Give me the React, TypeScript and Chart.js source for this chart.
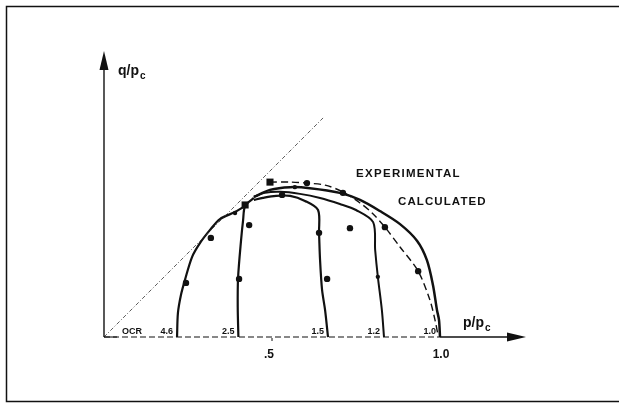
import { useEffect, useRef } from "react";
import { Chart, registerables } from "chart.js";

Chart.register(...registerables);

// Over-consolidation ratios; each undrained path starts on the axis at p/pc = 1/OCR
const ocrValues = [4.6, 2.5, 1.5, 1.2, 1.0];
const ocrLabels = ["4.6", "2.5", "1.5", "1.2", "1.0"];

// Calculated stress paths (p/pc, q/pc) after their start point
const path46: [number, number][] = [
  [0.22, 0.071], [0.229, 0.125], [0.241, 0.17], [0.262, 0.238], [0.286, 0.28],
  [0.315, 0.318], [0.345, 0.351], [0.39, 0.372], [0.42, 0.39],
];
const path25: [number, number][] = [
  [0.398, 0.089], [0.399, 0.176], [0.408, 0.289], [0.414, 0.348], [0.42, 0.39], [0.446, 0.414],
];
const path15: [number, number][] = [
  [0.658, 0.08], [0.649, 0.14], [0.643, 0.229], [0.64, 0.31], [0.637, 0.378],
  [0.598, 0.405], [0.554, 0.42], [0.512, 0.42], [0.473, 0.414], [0.446, 0.408],
];
const path12: [number, number][] = [
  [0.827, 0.08], [0.815, 0.179], [0.807, 0.259], [0.801, 0.342], [0.75, 0.378],
  [0.702, 0.396], [0.643, 0.414], [0.583, 0.426], [0.524, 0.432], [0.479, 0.429], [0.446, 0.417],
];
const path10: [number, number][] = [
  [0.997, 0.051], [0.991, 0.08], [0.979, 0.155], [0.961, 0.229], [0.932, 0.286],
  [0.881, 0.336], [0.821, 0.375], [0.762, 0.408], [0.702, 0.429], [0.613, 0.443],
  [0.554, 0.446], [0.494, 0.438], [0.446, 0.417],
];

// Experimental yield locus (dashed)
const experimentalLocus: [number, number][] = [
  [0.494, 0.461], [0.554, 0.461], [0.604, 0.458], [0.658, 0.452], [0.711, 0.432],
  [0.762, 0.399], [0.798, 0.369], [0.836, 0.327], [0.881, 0.268], [0.935, 0.196],
  [0.97, 0.11], [0.985, 0.051], [0.994, 0.006],
];

// Measured points
const testPoints: [number, number][] = [
  [0.244, 0.161], [0.318, 0.295], [0.432, 0.333], [0.402, 0.173], [0.53, 0.423],
  [0.604, 0.458], [0.64, 0.31], [0.664, 0.173], [0.732, 0.324], [0.711, 0.429],
  [0.836, 0.327], [0.935, 0.196],
];
const minorPoints: [number, number][] = [[0.39, 0.369], [0.815, 0.179], [0.568, 0.446]];
const peakPoints: [number, number][] = [[0.42, 0.393], [0.494, 0.461]];

// q = p reference line
const unityLine: [number, number][] = [[0, 0], [0.652, 0.652]];

const xTickValues = [0.5, 1.0];
const xTickLabels = [".5", "1.0"];

const FONT = '"Liberation Sans", Arial, Helvetica, sans-serif';
const INK = "#111";

const toXY = (pts: [number, number][]) => pts.map(([x, y]) => ({ x, y }));

const fromOcr = (ocr: number, rest: [number, number][]) => [{ x: 1 / ocr, y: 0 }, ...toXY(rest)];

const pathLine = (data: { x: number; y: number }[], width = 2.2) => ({
  data,
  showLine: true,
  borderColor: INK,
  borderWidth: width,
  pointRadius: 0,
  tension: 0.3,
  fill: false,
});

const overlay = {
  id: "figureDecor",
  beforeDraw(chart: Chart) {
    const ctx = chart.ctx;
    ctx.save();
    ctx.fillStyle = "#fff";
    ctx.fillRect(0, 0, chart.width, chart.height);
    // frame
    ctx.strokeStyle = INK;
    ctx.lineWidth = 1.5;
    ctx.beginPath();
    ctx.moveTo(chart.width, 6.5);
    ctx.lineTo(6.5, 6.5);
    ctx.lineTo(6.5, 401.5);
    ctx.lineTo(chart.width, 401.5);
    ctx.stroke();
    ctx.restore();
  },
  afterDatasetsDraw(chart: Chart) {
    const ctx = chart.ctx;
    const xs = chart.scales.x;
    const ys = chart.scales.y;
    const x0 = xs.getPixelForValue(0);
    const y0 = ys.getPixelForValue(0);
    const yTip = ys.getPixelForValue(0.851);
    const xTip = xs.getPixelForValue(1.256);
    const x1 = xs.getPixelForValue(1);
    ctx.save();
    ctx.strokeStyle = INK;
    ctx.fillStyle = INK;

    // vertical axis
    ctx.lineWidth = 1.4;
    ctx.beginPath();
    ctx.moveTo(x0, y0);
    ctx.lineTo(x0, yTip + 10);
    ctx.stroke();
    ctx.beginPath();
    ctx.moveTo(x0, yTip);
    ctx.lineTo(x0 - 4.5, yTip + 19);
    ctx.lineTo(x0 + 4.5, yTip + 19);
    ctx.closePath();
    ctx.fill();

    // horizontal axis: broken up to p/pc = 1, solid beyond
    ctx.lineWidth = 1.1;
    ctx.setLineDash([6, 3]);
    ctx.beginPath();
    ctx.moveTo(x0, y0);
    ctx.lineTo(x1, y0);
    ctx.stroke();
    ctx.setLineDash([]);
    ctx.beginPath();
    ctx.moveTo(x0, y0);
    ctx.lineTo(x0 + 13, y0);
    ctx.stroke();
    ctx.lineWidth = 1.6;
    ctx.beginPath();
    ctx.moveTo(x1, y0);
    ctx.lineTo(xTip - 10, y0);
    ctx.stroke();
    ctx.beginPath();
    ctx.moveTo(xTip, y0);
    ctx.lineTo(xTip - 19, y0 - 4.5);
    ctx.lineTo(xTip - 19, y0 + 4.5);
    ctx.closePath();
    ctx.fill();

    // tick labels
    ctx.font = `bold 12px ${FONT}`;
    ctx.textAlign = "center";
    ctx.textBaseline = "alphabetic";
    xTickValues.forEach((v, i) => {
      const px = xs.getPixelForValue(v);
      ctx.fillText(xTickLabels[i], px + (i === 0 ? -3 : 1), y0 + 21);
    });
    ctx.lineWidth = 1;
    const px5 = xs.getPixelForValue(0.5);
    ctx.beginPath();
    ctx.moveTo(px5, y0 + 1);
    ctx.lineTo(px5, y0 + 4);
    ctx.stroke();

    // OCR labels at the start of each path
    ctx.font = `bold 9px ${FONT}`;
    ctx.textAlign = "right";
    ctx.fillText("OCR", x0 + 38, y0 - 3);
    ocrValues.forEach((ocr, i) => {
      const px = xs.getPixelForValue(1 / ocr);
      ctx.fillText(ocrLabels[i], px - 4, y0 - 3);
    });

    // axis titles
    ctx.textAlign = "left";
    ctx.font = `bold 14px ${FONT}`;
    const wq = ctx.measureText("q/p").width;
    ctx.fillText("q/p", x0 + 14, yTip + 24);
    ctx.font = `bold 10px ${FONT}`;
    ctx.fillText("c", x0 + 14 + wq + 1, yTip + 28);
    ctx.font = `bold 14px ${FONT}`;
    const w = ctx.measureText("p/p").width;
    ctx.fillText("p/p", xTip - 63, y0 - 10);
    ctx.font = `bold 10px ${FONT}`;
    ctx.fillText("c", xTip - 63 + w + 1, y0 - 6);

    // curve captions
    ctx.font = `bold 11.5px ${FONT}`;
    (ctx as any).letterSpacing = "1.3px";
    ctx.fillText("EXPERIMENTAL", 356, 177);
    (ctx as any).letterSpacing = "1.1px";
    ctx.fillText("CALCULATED", 398, 205);
    (ctx as any).letterSpacing = "0px";
    ctx.restore();
  },
};

export default function App() {
  const canvasRef = useRef<HTMLCanvasElement | null>(null);

  useEffect(() => {
    const canvas = canvasRef.current;
    if (!canvas) return;
    const chart = new Chart(canvas, {
      type: "scatter",
      data: {
        datasets: [
          {
            data: toXY(unityLine),
            showLine: true,
            borderColor: "#333",
            borderWidth: 0.8,
            borderDash: [4, 2, 1, 2],
            pointRadius: 0,
            fill: false,
          },
          pathLine(fromOcr(ocrValues[0], path46), 2.2),
          pathLine(fromOcr(ocrValues[1], path25), 2.2),
          pathLine(fromOcr(ocrValues[2], path15), 2.2),
          pathLine(fromOcr(ocrValues[3], path12), 2.0),
          pathLine(fromOcr(ocrValues[4], path10), 2.5),
          {
            data: toXY(experimentalLocus),
            showLine: true,
            borderColor: INK,
            borderWidth: 1.4,
            borderDash: [7, 4],
            pointRadius: 0,
            tension: 0.3,
            fill: false,
          },
          {
            data: toXY(testPoints),
            showLine: false,
            pointStyle: "circle",
            pointRadius: 3.2,
            pointBackgroundColor: INK,
            pointBorderColor: INK,
            pointBorderWidth: 0,
          },
          {
            data: toXY(minorPoints),
            showLine: false,
            pointStyle: "circle",
            pointRadius: 2.2,
            pointBackgroundColor: INK,
            pointBorderColor: INK,
            pointBorderWidth: 0,
          },
          {
            data: toXY(peakPoints),
            showLine: false,
            pointStyle: "rect",
            pointRadius: 5,
            pointBackgroundColor: INK,
            pointBorderColor: INK,
            pointBorderWidth: 0,
          },
        ],
      },
      options: {
        responsive: false,
        animation: false,
        layout: { padding: 0, autoPadding: false },
        plugins: {
          legend: { display: false },
          tooltip: { enabled: false },
          title: { display: false },
        },
        scales: {
          x: { type: "linear", display: false, min: -0.3095, max: 1.5327 },
          y: { type: "linear", display: false, min: -0.2083, max: 1.003 },
        },
      },
      plugins: [overlay],
    });
    return () => chart.destroy();
  }, []);

  return (
    <div style={{ position: "fixed", left: 0, top: 0, width: 619, height: 407, background: "#fff" }}>
      <canvas ref={canvasRef} width={619} height={407} style={{ display: "block" }} />
    </div>
  );
}
